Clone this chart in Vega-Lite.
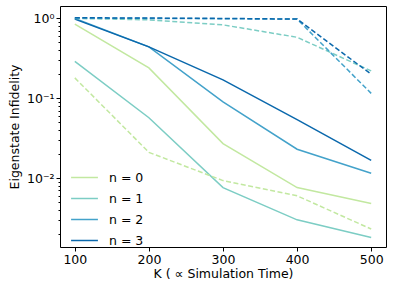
{
  "$schema": "https://vega.github.io/schema/vega-lite/v6.json",
  "width": 326,
  "height": 241,
  "autosize": {"type": "none"},
  "padding": {"left": 60, "top": 6, "right": 8, "bottom": 45},
  "background": "white",
  "config": {
    "font": "DejaVu Sans",
    "view": {"stroke": "black", "strokeWidth": 1},
    "axis": {"grid": false, "domain": false, "tickColor": "black", "labelColor": "black", "titleColor": "black", "labelFontSize": 12.5, "titleFontSize": 12.5, "titleFontWeight": "normal", "labelFont": "DejaVu Sans", "titleFont": "DejaVu Sans"}
  },
  "data": {
    "values": [
      {"K": 100, "n": "n = 0", "style": "solid", "v": 0.85},
      {"K": 200, "n": "n = 0", "style": "solid", "v": 0.24},
      {"K": 300, "n": "n = 0", "style": "solid", "v": 0.027},
      {"K": 400, "n": "n = 0", "style": "solid", "v": 0.0076},
      {"K": 500, "n": "n = 0", "style": "solid", "v": 0.0048},
      {"K": 100, "n": "n = 1", "style": "solid", "v": 0.29},
      {"K": 200, "n": "n = 1", "style": "solid", "v": 0.057},
      {"K": 300, "n": "n = 1", "style": "solid", "v": 0.0076},
      {"K": 400, "n": "n = 1", "style": "solid", "v": 0.003},
      {"K": 500, "n": "n = 1", "style": "solid", "v": 0.0018},
      {"K": 100, "n": "n = 2", "style": "solid", "v": 1.0},
      {"K": 200, "n": "n = 2", "style": "solid", "v": 0.44},
      {"K": 300, "n": "n = 2", "style": "solid", "v": 0.09},
      {"K": 400, "n": "n = 2", "style": "solid", "v": 0.023},
      {"K": 500, "n": "n = 2", "style": "solid", "v": 0.0115},
      {"K": 100, "n": "n = 3", "style": "solid", "v": 0.98},
      {"K": 200, "n": "n = 3", "style": "solid", "v": 0.44},
      {"K": 300, "n": "n = 3", "style": "solid", "v": 0.17},
      {"K": 400, "n": "n = 3", "style": "solid", "v": 0.054},
      {"K": 500, "n": "n = 3", "style": "solid", "v": 0.0167},
      {"K": 100, "n": "n = 0", "style": "dashed", "v": 0.18},
      {"K": 200, "n": "n = 0", "style": "dashed", "v": 0.021},
      {"K": 300, "n": "n = 0", "style": "dashed", "v": 0.0093},
      {"K": 400, "n": "n = 0", "style": "dashed", "v": 0.006},
      {"K": 500, "n": "n = 0", "style": "dashed", "v": 0.0023},
      {"K": 100, "n": "n = 1", "style": "dashed", "v": 1.0},
      {"K": 200, "n": "n = 1", "style": "dashed", "v": 0.96},
      {"K": 300, "n": "n = 1", "style": "dashed", "v": 0.83},
      {"K": 400, "n": "n = 1", "style": "dashed", "v": 0.58},
      {"K": 500, "n": "n = 1", "style": "dashed", "v": 0.22},
      {"K": 100, "n": "n = 2", "style": "dashed", "v": 1.01},
      {"K": 200, "n": "n = 2", "style": "dashed", "v": 1.0},
      {"K": 300, "n": "n = 2", "style": "dashed", "v": 0.99},
      {"K": 400, "n": "n = 2", "style": "dashed", "v": 0.98},
      {"K": 500, "n": "n = 2", "style": "dashed", "v": 0.115},
      {"K": 100, "n": "n = 3", "style": "dashed", "v": 1.02},
      {"K": 200, "n": "n = 3", "style": "dashed", "v": 1.01},
      {"K": 300, "n": "n = 3", "style": "dashed", "v": 1.0},
      {"K": 400, "n": "n = 3", "style": "dashed", "v": 0.98},
      {"K": 500, "n": "n = 3", "style": "dashed", "v": 0.2}
    ]
  },
  "encoding": {
    "x": {
      "field": "K", "type": "quantitative",
      "scale": {"domain": [80, 520], "nice": false, "zero": false},
      "axis": {"values": [100, 200, 300, 400, 500], "title": "K ( ∝ Simulation Time)", "tickSize": 4, "labelPadding": 2, "titlePadding": 2}
    },
    "y": {
      "field": "v", "type": "quantitative",
      "scale": {"type": "log", "domain": [0.00137, 1.43], "nice": false},
      "axis": {
        "values": [0.002, 0.003, 0.004, 0.005, 0.006, 0.007, 0.008, 0.009, 0.01, 0.02, 0.03, 0.04, 0.05, 0.06, 0.07, 0.08, 0.09, 0.1, 0.2, 0.3, 0.4, 0.5, 0.6, 0.7, 0.8, 0.9, 1],
        "labelExpr": "datum.value == 1 ? '10⁰' : (abs(datum.value - 0.1) < 1e-9 ? '10⁻¹' : (abs(datum.value - 0.01) < 1e-9 ? '10⁻²' : ''))",
        "tickSize": {"condition": {"test": "datum.value == 1 || abs(datum.value - 0.1) < 1e-9 || abs(datum.value - 0.01) < 1e-9", "value": 4}, "value": 2},
        "title": "Eigenstate Infidelity",
        "labelPadding": 2,
        "titlePadding": 5
      }
    },
    "color": {
      "field": "n", "type": "nominal",
      "scale": {"domain": ["n = 0", "n = 1", "n = 2", "n = 3"], "range": ["#c2e8a0", "#7ccdc4", "#43a2ca", "#0a68ac"]},
      "legend": {
        "title": null, "orient": "none", "legendX": 10, "legendY": 157,
        "symbolType": "stroke", "symbolStrokeWidth": 1.5, "symbolSize": 720,
        "labelFontSize": 12.5, "labelFont": "DejaVu Sans", "labelColor": "black",
        "rowPadding": -8.5, "symbolOffset": 0, "labelOffset": 10, "padding": 0
      }
    }
  },
  "layer": [
    {
      "transform": [{"filter": "datum.style == 'solid'"}],
      "mark": {"type": "line", "strokeWidth": 1.5}
    },
    {
      "transform": [{"filter": "datum.style == 'dashed'"}],
      "mark": {"type": "line", "strokeWidth": 1.5, "strokeDash": [5, 2.5]}
    }
  ]
}
